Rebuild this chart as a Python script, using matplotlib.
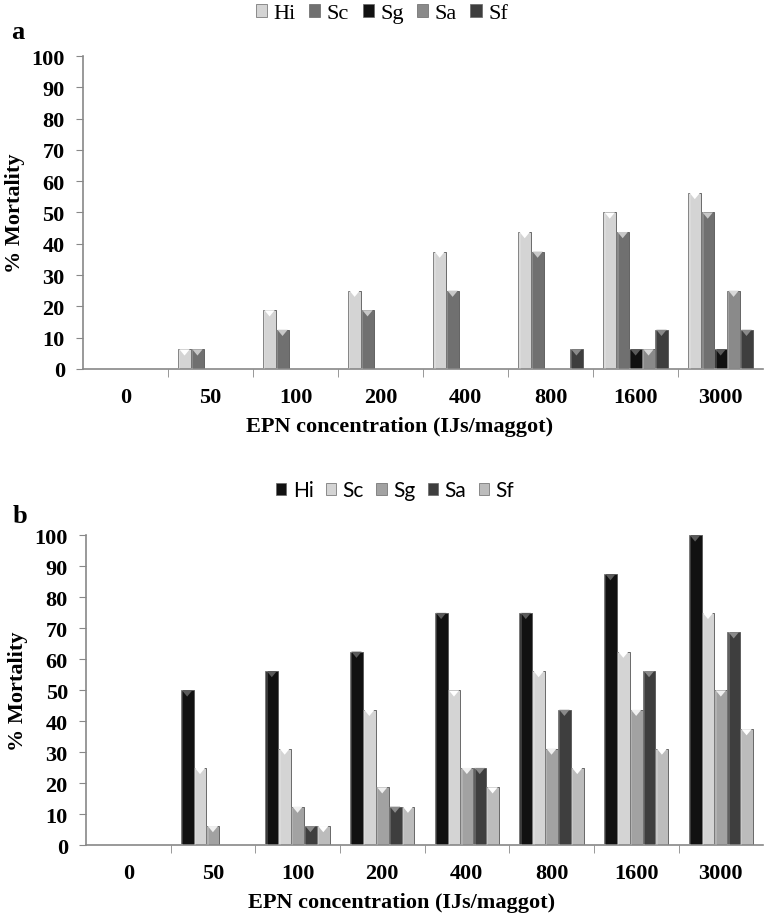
import numpy as np
import matplotlib
matplotlib.use('Agg')
import matplotlib.pyplot as plt
from matplotlib.patches import Patch, Polygon

# concentrations (IJs/maggot)
concentrations = ['0', '50', '100', '200', '400', '800', '1600', '3000']
species = ['Hi', 'Sc', 'Sg', 'Sa', 'Sf']

# panel a: % mortality
a_hi = [0, 6.25, 18.75, 25, 37.5, 43.75, 50, 56.25]
a_sc = [0, 6.25, 12.5, 18.75, 25, 37.5, 43.75, 50]
a_sg = [0, 0, 0, 0, 0, 0, 6.25, 6.25]
a_sa = [0, 0, 0, 0, 0, 0, 6.25, 25]
a_sf = [0, 0, 0, 0, 0, 6.25, 12.5, 12.5]

# panel b: % mortality
b_hi = [0, 50, 56.25, 62.5, 75, 75, 87.5, 100]
b_sc = [0, 25, 31.25, 43.75, 50, 56.25, 62.5, 75]
b_sg = [0, 6.25, 12.5, 18.75, 25, 31.25, 43.75, 50]
b_sa = [0, 0, 6.25, 12.5, 25, 43.75, 56.25, 68.75]
b_sf = [0, 0, 6.25, 12.5, 18.75, 25, 31.25, 37.5]

# bar colour, triangle (bevel) colour
a_colors = ['#d4d4d4', '#707070', '#111111', '#8a8a8a', '#3e3e3e']
a_tops = ['#ffffff', '#c8c8c8', '#5a5a5a', '#d8d8d8', '#8a8a8a']
b_colors = ['#111111', '#d4d4d4', '#a2a2a2', '#3e3e3e', '#bcbcbc']
b_tops = ['#5a5a5a', '#ffffff', '#f0f0f0', '#8a8a8a', '#ffffff']

serif = 'Liberation Serif'


def draw_panel(ax, series, colors, tops, legend_font, legend_size, legend_pos):
    x = np.arange(len(concentrations))
    width = 0.152
    offsets = (np.arange(len(series)) - 2) * width
    for vals, off, col, topc in zip(series, offsets, colors, tops):
        bars = ax.bar(x + off, vals, width, color=col, edgecolor='#555555',
                      linewidth=0.6, zorder=2)
        for b in bars:
            h = b.get_height()
            if h <= 0:
                continue
            x0 = b.get_x()
            w = b.get_width()
            tri = Polygon([(x0 + 0.1 * w, h), (x0 + 0.9 * w, h), (x0 + 0.5 * w, h - 2.0)],
                          closed=True, facecolor=topc, edgecolor='none', zorder=3)
            ax.add_patch(tri)
            # light strip on the left side
            ax.add_patch(plt.Rectangle((x0, 0), w * 0.18, h, facecolor='white',
                                       alpha=0.18, edgecolor='none', zorder=3))

    ax.set_xlim(-0.5, len(concentrations) - 0.5)
    ax.set_ylim(0, 100)
    ax.set_yticks(range(0, 101, 10))
    ax.set_xticks(x)
    ax.set_xticklabels(concentrations)
    ax.set_xticks(np.arange(0.5, len(concentrations) - 0.5, 1.0), minor=True)
    ax.tick_params(axis='x', which='major', length=0, pad=13)
    ax.tick_params(axis='x', which='minor', length=6, color='#888888', direction='out')
    ax.tick_params(axis='y', length=5, color='#888888', direction='out', pad=8)
    for lab in ax.get_xticklabels() + ax.get_yticklabels():
        lab.set_fontfamily(serif)
        lab.set_fontweight('bold')
        lab.set_fontsize(16)
    for s in ['top', 'right']:
        ax.spines[s].set_visible(False)
    for s in ['left', 'bottom']:
        ax.spines[s].set_color('#888888')
        ax.spines[s].set_linewidth(1.2)
    ax.set_ylabel('% Mortality', fontfamily=serif, fontweight='bold', fontsize=16)
    ax.yaxis.set_label_coords(-0.085, 0.5)
    ax.set_xlabel('EPN concentration (IJs/maggot)', fontfamily=serif, fontweight='bold',
                  fontsize=16)
    ax.xaxis.set_label_coords(0.466, -0.15)

    handles = [Patch(facecolor=c, edgecolor='#666666', linewidth=0.5, label=s)
               for c, s in zip(colors, species)]
    ax.legend(handles=handles, ncol=5, frameon=False, loc='center',
              bbox_to_anchor=legend_pos, bbox_transform=ax.figure.transFigure,
              prop={'family': legend_font, 'size': legend_size}, handlelength=0.5,
              handleheight=0.5, handletextpad=0.3, columnspacing=0.6)


fig = plt.figure(figsize=(7.67, 9.2), dpi=100)
ax1 = fig.add_axes([0.108, 0.598, 0.887, 0.340])
ax2 = fig.add_axes([0.112, 0.080, 0.883, 0.337])

draw_panel(ax1, [a_hi, a_sc, a_sg, a_sa, a_sf], a_colors, a_tops, serif, 16, (0.498, 0.984))
draw_panel(ax2, [b_hi, b_sc, b_sg, b_sa, b_sf], b_colors, b_tops, 'Lato', 15, (0.515, 0.466))

fig.text(0.014, 0.965, 'a', fontfamily=serif, fontweight='bold', fontsize=19, va='center')
fig.text(0.016, 0.439, 'b', fontfamily=serif, fontweight='bold', fontsize=19, va='center')

fig.savefig('out.png', dpi=100)
